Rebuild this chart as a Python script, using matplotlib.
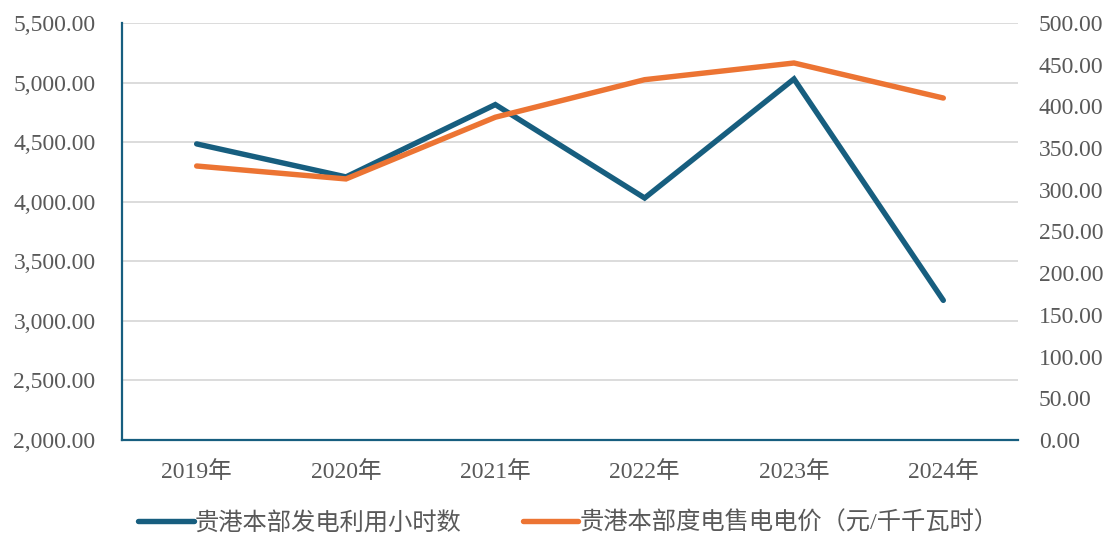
import matplotlib.pyplot as plt
from matplotlib.ticker import FuncFormatter

# data
years = ['2019年', '2020年', '2021年', '2022年', '2023年', '2024年']
hours = [4485, 4208, 4815, 4031, 5030, 3172]
price = [328.5, 313.0, 387.0, 432.0, 452.0, 410.0]
hours_label = '贵港本部发电利用小时数'
price_label = '贵港本部度电售电电价（元/千千瓦时）'

blue = '#175e7f'
orange = '#ec7433'
grey = '#595959'
fonts = ['Liberation Serif', 'Noto Sans CJK SC']

plt.rcParams['font.family'] = fonts

fig = plt.figure(figsize=(11.1, 5.34), dpi=100)
ax = fig.add_axes([0.1099, 0.176, 0.8072, 0.781])
ax2 = ax.twinx()

x = list(range(len(years)))
l1, = ax.plot(x, hours, color=blue, lw=3.9, solid_capstyle='round', solid_joinstyle='miter', zorder=3)
l2, = ax2.plot(x, price, color=orange, lw=3.9, solid_capstyle='round', solid_joinstyle='miter', zorder=3)

ax.set_xlim(-0.5, len(years) - 0.5)
ax.set_ylim(2000, 5500)
ax.set_yticks(range(2000, 5501, 500))
ax2.set_ylim(0, 500)
ax2.set_yticks(range(0, 501, 50))

ax.yaxis.set_major_formatter(FuncFormatter(lambda v, p: f'{v:,.2f}'))
ax2.yaxis.set_major_formatter(FuncFormatter(lambda v, p: f'{v:,.2f}'))

ax.set_xticks(x)
ax.set_xticklabels(years)
ax.grid(axis='y', color='#d9d9d9', lw=1.3)
ax.set_axisbelow(True)

ax.tick_params(axis='both', length=0, labelsize=17, labelcolor=grey)
ax.tick_params(axis='y', pad=19)
ax.tick_params(axis='x', pad=15)
ax2.tick_params(axis='y', length=0, labelsize=17, labelcolor=grey, pad=15)

for a in (ax, ax2):
    for s in ('top', 'right'):
        a.spines[s].set_visible(False)
ax2.spines['left'].set_visible(False)
ax2.spines['bottom'].set_visible(False)
ax.spines['left'].set_color(blue)
ax.spines['bottom'].set_color(blue)
ax.spines['left'].set_linewidth(1.6)
ax.spines['bottom'].set_linewidth(1.6)

leg = fig.legend([l1, l2], [hours_label, price_label], loc='center',
                 bbox_to_anchor=(0.512, 0.021), ncol=2, frameon=False,
                 fontsize=17.5, handlelength=2.3, columnspacing=2.5,
                 handletextpad=0.05)
for t in leg.get_texts():
    t.set_color(grey)

plt.savefig('out.png', dpi=100)
